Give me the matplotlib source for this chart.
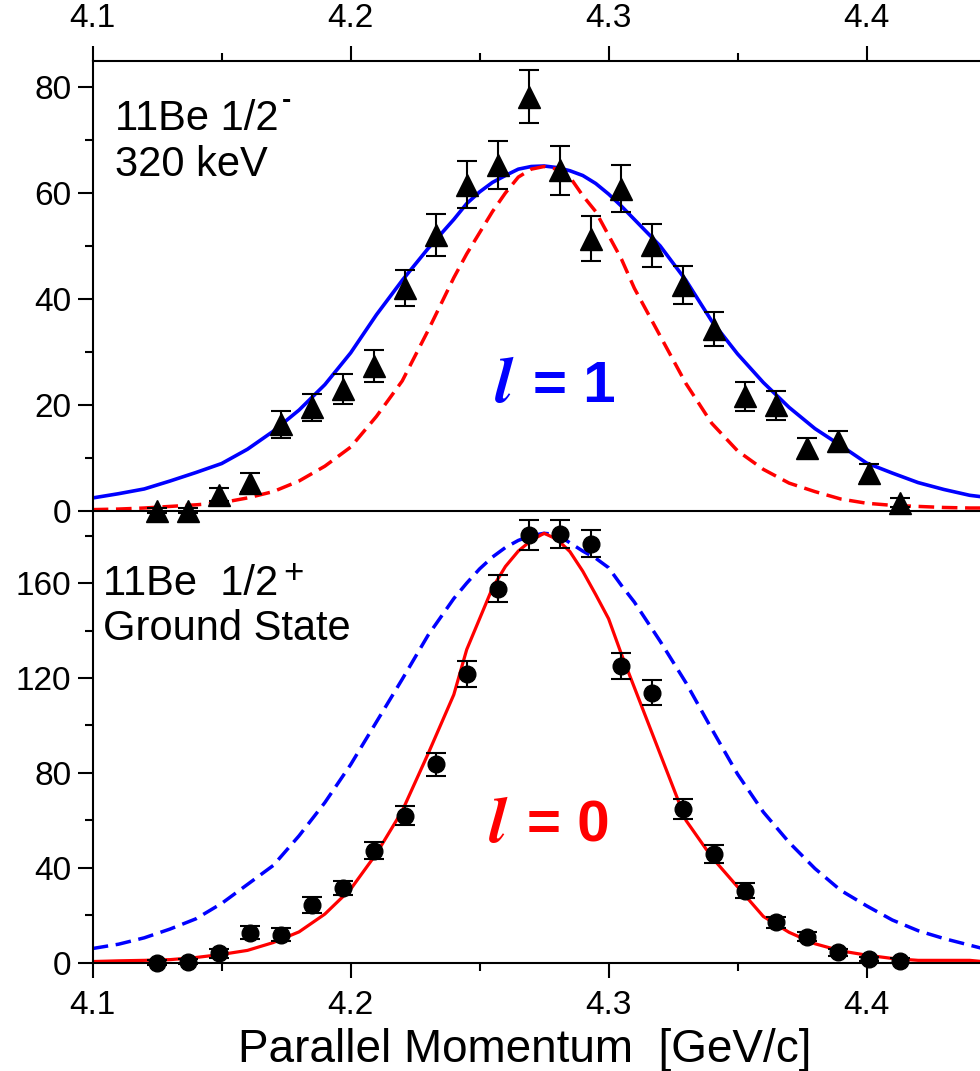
import matplotlib
matplotlib.use("Agg")
import matplotlib.pyplot as plt
from matplotlib.ticker import MultipleLocator

plt.rcParams['font.family'] = ['Liberation Sans', 'DejaVu Sans']

# measured points (parallel momentum, GeV/c)
p_data = [4.125, 4.137, 4.149, 4.161, 4.173, 4.185, 4.197, 4.209, 4.221, 4.233,
          4.245, 4.257, 4.269, 4.281, 4.293, 4.305, 4.317, 4.329, 4.341, 4.353,
          4.365, 4.377, 4.389, 4.401, 4.413]

# 11Be 1/2- (320 keV) counts
cnt_exc = [0, 0, 3.0, 5.3, 16.3, 19.5, 23.0, 27.3, 42.0, 52.1,
           61.6, 65.3, 78.2, 64.3, 51.4, 60.8, 50.1, 42.6, 34.3, 21.6,
           19.9, 11.9, 13.1, 7.2, 1.5]
err_exc = [0.5, 0.5, 1.2, 1.8, 2.5, 2.6, 2.9, 3.0, 3.4, 4.0,
           4.4, 4.6, 5.0, 4.6, 4.3, 4.4, 4.0, 3.6, 3.2, 2.7,
           2.7, 1.9, 2.0, 1.7, 0.8]

# 11Be 1/2+ ground state counts
cnt_gs = [0, 0.5, 4.0, 12.6, 11.8, 24.4, 31.6, 47.3, 62.0, 83.6,
          121.8, 157.7, 180.3, 180.6, 176.7, 125.2, 113.8, 64.7, 45.9, 30.4,
          17.0, 11.0, 4.4, 1.6, 0.9]
err_gs = [1.0, 1.0, 1.8, 2.8, 2.7, 3.5, 3.0, 3.4, 4.0, 4.8,
          5.4, 5.8, 6.2, 5.8, 5.5, 5.5, 5.2, 4.3, 3.7, 3.0,
          2.4, 2.0, 1.4, 1.0, 0.9]

# theory curves
p_th = [4.10, 4.11, 4.12, 4.13, 4.14, 4.15, 4.16, 4.17, 4.18, 4.19,
        4.20, 4.21, 4.22, 4.23, 4.24, 4.245, 4.25, 4.255, 4.26, 4.265,
        4.27, 4.275, 4.28, 4.285, 4.29, 4.295, 4.30, 4.305, 4.31, 4.32,
        4.33, 4.34, 4.35, 4.36, 4.37, 4.38, 4.39, 4.40, 4.41, 4.42,
        4.43, 4.44, 4.445]

l1_top = [2.4, 3.2, 4.1, 5.6, 7.2, 8.9, 11.6, 15.0, 19.0, 23.8,
          29.8, 37.0, 43.5, 49.5, 55.0, 58.0, 60.2, 62.0, 63.3, 64.5,
          65.0, 65.1, 64.8, 64.2, 63.3, 61.8, 59.8, 57.5, 55.0, 50.0,
          43.5, 35.8, 29.6, 24.2, 19.5, 15.5, 12.3, 9.0, 7.1, 5.3,
          4.0, 2.9, 2.6]
l0_top = [0.2, 0.3, 0.5, 0.8, 1.1, 1.5, 2.4, 3.6, 5.6, 8.4,
          12.0, 17.8, 24.5, 34.0, 44.0, 48.5, 52.5, 56.5, 60.0, 63.0,
          64.5, 65.0, 64.5, 63.0, 59.5, 56.5, 52.0, 47.5, 42.0, 33.0,
          24.0, 16.5, 11.3, 7.8, 5.2, 3.6, 2.2, 1.4, 1.0, 0.8,
          0.6, 0.5, 0.5]

l0_bot = [0.5, 0.8, 1.0, 1.3, 2.2, 3.5, 5.2, 8.5, 13.0, 20.5,
          31.0, 46.0, 64.0, 88.0, 113.0, 132.0, 145.0, 158.0, 167.0, 173.5,
          178.0, 181.0, 178.5, 173.3, 165.0, 155.2, 145.0, 130.0, 116.0, 88.0,
          60.0, 44.5, 32.0, 19.5, 12.8, 8.0, 5.0, 3.2, 1.8, 1.0,
          1.0, 1.0, 0.5]
l1_bot = [6.0, 7.8, 10.5, 14.2, 18.5, 25.0, 33.0, 41.0, 53.5, 67.5,
          83.5, 101.5, 119.5, 138.0, 153.5, 160.0, 166.0, 171.0, 175.0, 178.0,
          180.0, 181.0, 180.5, 177.0, 173.5, 170.5, 166.5, 159.0, 152.0, 135.5,
          118.0, 98.5, 79.5, 63.5, 50.7, 39.7, 30.5, 24.0, 18.0, 13.5,
          10.2, 7.4, 6.0]

fig = plt.figure(figsize=(9.8, 10.71), dpi=100)
ax1 = fig.add_axes([0.0946, 0.5232, 0.9054, 0.4202])
ax2 = fig.add_axes([0.0946, 0.1011, 0.9054, 0.4220])

for ax in (ax1, ax2):
    ax.set_facecolor('none')
    ax.set_xlim(4.1, 4.444)
    ax.spines['right'].set_visible(False)
    for s in ax.spines.values():
        s.set_linewidth(1.5)
    ax.xaxis.set_major_locator(MultipleLocator(0.1))
    ax.xaxis.set_minor_locator(MultipleLocator(0.05))
    ax.tick_params(which='both', direction='out', width=1.5, labelsize=24)
    ax.tick_params(which='major', length=10.5)
    ax.tick_params(which='minor', length=6)
    ax.tick_params(axis='y', pad=5)
    ax.tick_params(axis='x', pad=9)

# top panel: 1/2- state
ax1.set_ylim(0, 85)
ax1.yaxis.set_major_locator(MultipleLocator(20))
ax1.yaxis.set_minor_locator(MultipleLocator(10))
ax1.tick_params(axis='x', which='both', top=True, bottom=False,
                labeltop=True, labelbottom=False)

ax1.plot(p_th, l1_top, color='#0000FF', lw=2.6)
ax1.plot(p_th, l0_top, color='#FF0000', lw=2.5, dashes=(4.5, 2.2))
ax1.errorbar(p_data, cnt_exc, yerr=err_exc, fmt='^', color='black', ms=16,
             ecolor='black', elinewidth=1.5, capsize=7.5, capthick=1.5,
             clip_on=False, zorder=5)

ax1.text(0.0248, 0.846, '11Be 1/2', transform=ax1.transAxes, fontsize=30,
         ha='left', va='baseline')
ax1.text(0.2187, 0.911, '-', transform=ax1.transAxes, fontsize=20,
         fontweight='bold', ha='center', va='center')
ax1.text(0.0248, 0.744, '320 keV', transform=ax1.transAxes, fontsize=30,
         ha='left', va='baseline')
ax1.text(0.463, 0.241, 'l', transform=ax1.transAxes, color='#0000FF',
         fontsize=46, family='STIXGeneral', style='italic',
         fontweight='bold', ha='center', va='baseline')
ax1.text(0.496, 0.241, '= 1', transform=ax1.transAxes, color='#0000FF',
         fontsize=42, fontweight='bold', ha='left', va='baseline')

# bottom panel: ground state
ax2.set_ylim(0, 190.5)
ax2.spines['top'].set_visible(False)
ax2.yaxis.set_major_locator(MultipleLocator(40))
ax2.yaxis.set_minor_locator(MultipleLocator(20))

ax2.plot(p_th, l1_bot, color='#0000FF', lw=2.5, dashes=(4.5, 2.2))
ax2.plot(p_th, l0_bot, color='#FF0000', lw=2.3)
ax2.errorbar(p_data, cnt_gs, yerr=err_gs, fmt='o', color='black', ms=12,
             ecolor='black', elinewidth=1.5, capsize=7.5, capthick=1.5,
             clip_on=False, zorder=5)

ax2.text(0.0113, 0.814, '11Be  1/2', transform=ax2.transAxes, fontsize=30,
         ha='left', va='baseline')
ax2.text(0.2266, 0.862, '+', transform=ax2.transAxes, fontsize=25,
         ha='center', va='center')
ax2.text(0.0113, 0.715, 'Ground State', transform=ax2.transAxes, fontsize=30,
         ha='left', va='baseline')
ax2.text(0.457, 0.268, 'l', transform=ax2.transAxes, color='#FF0000',
         fontsize=46, family='STIXGeneral', style='italic',
         fontweight='bold', ha='center', va='baseline')
ax2.text(0.490, 0.268, '= 0', transform=ax2.transAxes, color='#FF0000',
         fontsize=42, fontweight='bold', ha='left', va='baseline')

ax2.set_xlabel('Parallel Momentum  [GeV/c]', fontsize=33)
ax2.xaxis.set_label_coords(0.487, -0.145)

fig.savefig('out.png', dpi=100)
